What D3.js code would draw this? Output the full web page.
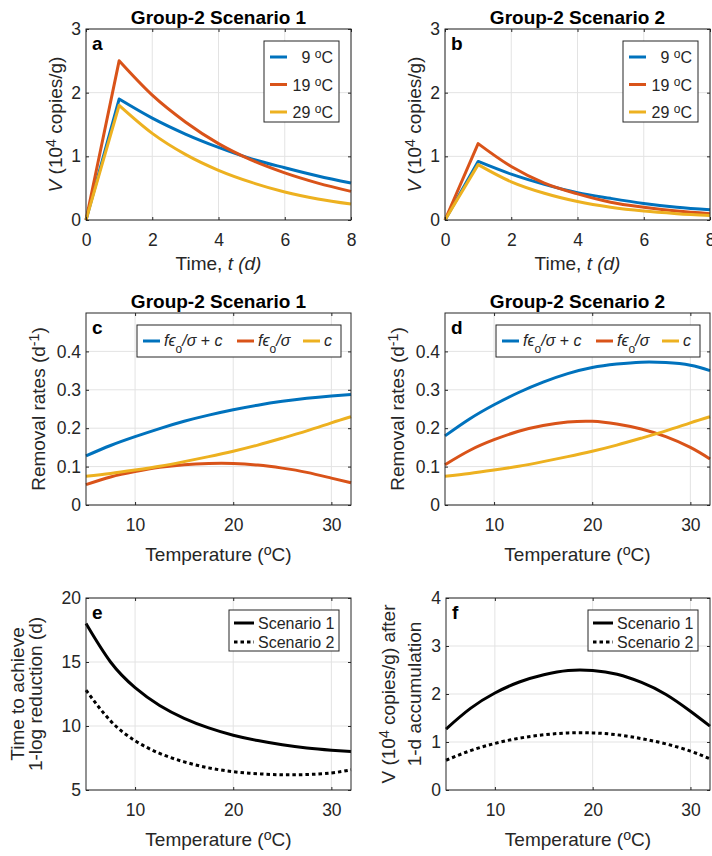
<!DOCTYPE html>
<html>
<head>
<meta charset="utf-8">
<script src="https://cdn.jsdelivr.net/npm/d3@7"></script>
<style>
  body { margin: 0; background: #fff; }
  svg { display: block; font-family: "Liberation Sans", Arial, Helvetica, sans-serif; }
</style>
</head>
<body>
<div id="chart"></div>
<script>
// ---- panels a / b : V over time (10^4 copies/g) ----
const timeDays = [0, 1, 2, 3, 4, 5, 6, 7, 8];
const tempNames = ["9", "19", "29"];
const s1At9  = [0, 1.90, 1.60, 1.35, 1.14, 0.96, 0.82, 0.69, 0.58];
const s1At19 = [0, 2.50, 1.96, 1.54, 1.20, 0.94, 0.74, 0.58, 0.45];
const s1At29 = [0, 1.80, 1.36, 1.03, 0.78, 0.59, 0.44, 0.33, 0.25];
const s2At9  = [0, 0.92, 0.72, 0.56, 0.43, 0.34, 0.26, 0.20, 0.16];
const s2At19 = [0, 1.20, 0.84, 0.58, 0.41, 0.28, 0.20, 0.14, 0.10];
const s2At29 = [0, 0.87, 0.60, 0.42, 0.29, 0.20, 0.14, 0.10, 0.07];

// ---- panels c..f : against temperature ----
const tempC     = [5, 7.5, 10, 12.5, 15, 17.5, 20, 22.5, 25, 27.5, 30, 32];
const s1Total   = [0.128, 0.155, 0.178, 0.199, 0.218, 0.234, 0.248, 0.260, 0.270, 0.278, 0.284, 0.288];
const s1Inact   = [0.053, 0.073, 0.087, 0.098, 0.105, 0.108, 0.108, 0.104, 0.096, 0.085, 0.070, 0.058];
const decayC    = [0.075, 0.082, 0.091, 0.101, 0.113, 0.126, 0.140, 0.156, 0.174, 0.193, 0.214, 0.230];
const s2Total   = [0.180, 0.224, 0.261, 0.293, 0.320, 0.342, 0.358, 0.367, 0.372, 0.371, 0.364, 0.350];
const s2Inact   = [0.105, 0.142, 0.170, 0.192, 0.207, 0.216, 0.218, 0.211, 0.198, 0.178, 0.150, 0.120];
const s1LogTime = [18.0, 15.0, 13.0, 11.6, 10.6, 9.85, 9.28, 8.86, 8.53, 8.28, 8.11, 8.0];
const s2LogTime = [12.8, 10.4, 8.85, 7.86, 7.20, 6.73, 6.43, 6.27, 6.19, 6.21, 6.33, 6.58];
const s1Peak    = [1.27, 1.70, 2.02, 2.25, 2.40, 2.49, 2.49, 2.41, 2.24, 1.99, 1.64, 1.33];
const s2Peak    = [0.62, 0.82, 0.97, 1.08, 1.15, 1.19, 1.19, 1.15, 1.07, 0.96, 0.81, 0.65];

// tick values
const timeTicks = [0, 2, 4, 6, 8];
const vTicks    = [0, 1, 2, 3];
const tempTicks = [10, 20, 30];
const rateTicks = [0, 0.1, 0.2, 0.3, 0.4];
const logTicks  = [5, 10, 15, 20];
const peakTicks = [0, 1, 2, 3, 4];

const ink = "#262626", gridInk = "#e3e3e3";
const blue = "#0072BD", orange = "#D95319", gold = "#EDB120";
const tickFont = 17.5, labelFont = 19, legendFont = 16;

var svg = d3.select("#chart").append("svg")
    .attr("width", 712)
    .attr("height", 856);

function rich(sel, parts) {
  parts.forEach(function(p) {
    var t = sel.append("tspan").text(p.t);
    if (p.i) t.attr("font-style", "italic");
    if (p.sup) t.attr("baseline-shift", "40%").attr("font-size", "75%");
    if (p.sub) t.attr("baseline-shift", "sub").attr("font-size", "75%");
  });
  return sel;
}

function makePanel(o) {
  var x = d3.scaleLinear().domain(o.xDomain).range([o.left, o.right]);
  var y = d3.scaleLinear().domain(o.yDomain).range([o.bottom, o.top]);
  var g = svg.append("g");

  g.append("g").selectAll("line").data(o.xTicks).join("line")
      .attr("x1", d => x(d)).attr("x2", d => x(d))
      .attr("y1", o.top).attr("y2", o.bottom)
      .attr("stroke", gridInk);
  g.append("g").selectAll("line").data(o.yTicks).join("line")
      .attr("y1", d => y(d)).attr("y2", d => y(d))
      .attr("x1", o.left).attr("x2", o.right)
      .attr("stroke", gridInk);

  return {g: g, x: x, y: y, o: o};
}

function finishPanel(p) {
  var o = p.o, g = p.g, fmt = d => String(d);

  g.append("rect")
      .attr("x", o.left).attr("y", o.top)
      .attr("width", o.right - o.left).attr("height", o.bottom - o.top)
      .attr("fill", "none").attr("stroke", ink).attr("stroke-width", 1);

  var axes = [
    [d3.axisBottom(p.x).tickValues(o.xTicks).tickFormat(fmt).tickPadding(14), "translate(0," + o.bottom + ")"],
    [d3.axisLeft(p.y).tickValues(o.yTicks).tickFormat(fmt).tickPadding(5), "translate(" + o.left + ",0)"],
    [d3.axisTop(p.x).tickValues(o.xTicks).tickFormat(""), "translate(0," + o.top + ")"],
    [d3.axisRight(p.y).tickValues(o.yTicks).tickFormat(""), "translate(" + o.right + ",0)"]
  ];
  axes.forEach(function(a) {
    var ax = g.append("g").attr("transform", a[1])
        .call(a[0].tickSizeInner(-3).tickSizeOuter(0));
    ax.select(".domain").remove();
    ax.attr("font-family", null).attr("font-size", tickFont);
    ax.selectAll("line").attr("stroke", ink);
    ax.selectAll("text").attr("fill", ink);
  });

  if (o.title) {
    g.append("text")
        .attr("x", (o.left + o.right) / 2).attr("y", o.top - 5)
        .attr("text-anchor", "middle")
        .attr("font-weight", "bold").attr("font-size", 19)
        .text(o.title);
  }
  g.append("text")
      .attr("x", o.left + 6).attr("y", o.top + 21)
      .attr("font-weight", "bold").attr("font-size", 19)
      .text(o.tag);

  rich(g.append("text")
      .attr("x", (o.left + o.right) / 2).attr("y", o.bottom + o.xLabelGap)
      .attr("text-anchor", "middle").attr("font-size", labelFont).attr("fill", ink),
      o.xLabel);

  o.yLabel.forEach(function(line) {
    rich(g.append("text")
        .attr("transform", "translate(" + (o.left - line.gap) + "," + ((o.top + o.bottom) / 2) + ") rotate(-90)")
        .attr("text-anchor", "middle").attr("font-size", labelFont).attr("fill", ink),
        line.parts);
  });
}

function timePath(p, vals) {
  var pts = timeDays.map((t, i) => [t, vals[i]]);
  var rise = d3.line().x(d => p.x(d[0])).y(d => p.y(d[1]))(pts.slice(0, 2));
  var fall = d3.line().x(d => p.x(d[0])).y(d => p.y(d[1]))
      .curve(d3.curveMonotoneX)(pts.slice(1));
  return rise + fall.replace(/^M/, "L");
}

function tempPath(p, vals) {
  return d3.line().x((d, i) => p.x(tempC[i])).y(d => p.y(d))
      .curve(d3.curveNatural)(vals);
}

function legendBox(g, x, y, w, h) {
  g.append("rect").attr("x", x).attr("y", y).attr("width", w).attr("height", h)
      .attr("fill", "#fff").attr("stroke", ink).attr("stroke-width", 1);
}

// ---------- time panels ----------
function timePanel(left, right, title, tag, series) {
  var p = makePanel({
    left: left, right: right, top: 29, bottom: 220,
    xDomain: [0, 8], yDomain: [0, 3], xTicks: timeTicks, yTicks: vTicks,
    title: title, tag: tag, xLabelGap: 50,
    xLabel: [{t: "Time, "}, {t: "t (d)", i: true}],
    yLabel: [{gap: 24.5, parts: [{t: "V", i: true}, {t: " (10"}, {t: "4", sup: true}, {t: " copies/g)"}]}]
  });
  var cols = [blue, orange, gold];
  series.forEach(function(vals, i) {
    p.g.append("path").attr("d", timePath(p, vals))
        .attr("fill", "none").attr("stroke", cols[i]).attr("stroke-width", 3)
        .attr("stroke-linejoin", "round");
  });
  finishPanel(p);
  var bx = right - 87, by = 29 + 12;
  legendBox(p.g, bx, by, 75, 81);
  tempNames.forEach(function(name, i) {
    var cy = by + 16 + i * 27.5;
    p.g.append("line").attr("x1", bx + 6).attr("x2", bx + 23).attr("y1", cy).attr("y2", cy)
        .attr("stroke", cols[i]).attr("stroke-width", 3);
    rich(p.g.append("text").attr("x", bx + 69).attr("y", cy + 6)
        .attr("text-anchor", "end").attr("font-size", legendFont).attr("fill", ink),
        [{t: name + " "}, {t: "o", sup: true}, {t: "C"}]);
  });
}
timePanel(86, 351, "Group-2 Scenario 1", "a", [s1At9, s1At19, s1At29]);
timePanel(445, 710, "Group-2 Scenario 2", "b", [s2At9, s2At19, s2At29]);

// ---------- removal-rate panels ----------
var tempXLabel = [{t: "Temperature ("}, {t: "o", sup: true}, {t: "C)"}];
function ratePanel(left, right, title, tag, total, inact) {
  var p = makePanel({
    left: left, right: right, top: 313, bottom: 505,
    xDomain: [5, 32], yDomain: [0, 0.5], xTicks: tempTicks, yTicks: rateTicks,
    title: title, tag: tag, xLabelGap: 56, xLabel: tempXLabel,
    yLabel: [{gap: 41, parts: [{t: "Removal rates (d"}, {t: "-1", sup: true}, {t: ")"}]}]
  });
  [[total, blue], [inact, orange], [decayC, gold]].forEach(function(s) {
    p.g.append("path").attr("d", tempPath(p, s[0]))
        .attr("fill", "none").attr("stroke", s[1]).attr("stroke-width", 3);
  });
  finishPanel(p);
  var bx = right - 214, by = 313 + 12, cy = by + 16;
  legendBox(p.g, bx, by, 204, 32);
  var fe = [{t: "f", i: true}, {t: "\u03F5", i: true}, {t: "o", sub: true}, {t: "/", i: true}, {t: "\u03C3", i: true}];
  var items = [
    [6, blue, fe.concat([{t: " + "}, {t: "c", i: true}])],
    [100, orange, fe],
    [166, gold, [{t: "c", i: true}]]
  ];
  items.forEach(function(it) {
    p.g.append("line").attr("x1", bx + it[0]).attr("x2", bx + it[0] + 17)
        .attr("y1", cy).attr("y2", cy)
        .attr("stroke", it[1]).attr("stroke-width", 3);
    rich(p.g.append("text").attr("x", bx + it[0] + 21).attr("y", cy + 5)
        .attr("font-size", legendFont).attr("fill", ink), it[2]);
  });
}
ratePanel(86, 351, "Group-2 Scenario 1", "c", s1Total, s1Inact);
ratePanel(445, 710, "Group-2 Scenario 2", "d", s2Total, s2Inact);

// ---------- scenario comparison panels ----------
function scenarioPanel(o, vals1, vals2) {
  o.top = 598; o.bottom = 790; o.xDomain = [5, 32]; o.xTicks = tempTicks;
  o.xLabelGap = 56; o.xLabel = tempXLabel;
  var p = makePanel(o);
  p.g.append("path").attr("d", tempPath(p, vals1))
      .attr("fill", "none").attr("stroke", "#000").attr("stroke-width", 3);
  p.g.append("path").attr("d", tempPath(p, vals2))
      .attr("fill", "none").attr("stroke", "#000").attr("stroke-width", 3)
      .attr("stroke-dasharray", "3.5,3");
  finishPanel(p);
  var bx = o.right - 122, by = o.top + 12;
  legendBox(p.g, bx, by, 110, 41);
  ["Scenario 1", "Scenario 2"].forEach(function(name, i) {
    var cy = by + 13 + i * 19;
    p.g.append("line").attr("x1", bx + 5).attr("x2", bx + 25).attr("y1", cy).attr("y2", cy)
        .attr("stroke", "#000").attr("stroke-width", 3)
        .attr("stroke-dasharray", i ? "3.5,3" : null);
    p.g.append("text").attr("x", bx + 29).attr("y", cy + 6)
        .attr("font-size", legendFont).attr("fill", ink).text(name);
  });
}
scenarioPanel({
  left: 86, right: 351, tag: "e", yDomain: [5, 20], yTicks: logTicks,
  yLabel: [{gap: 62, parts: [{t: "Time to achieve"}]},
           {gap: 44, parts: [{t: "1-log reduction (d)"}]}]
}, s1LogTime, s2LogTime);
scenarioPanel({
  left: 446, right: 710, tag: "f", yDomain: [0, 4], yTicks: peakTicks,
  yLabel: [{gap: 51, parts: [{t: "V (10"}, {t: "4", sup: true}, {t: " copies/g) after"}]},
           {gap: 25, parts: [{t: "1-d accumulation"}]}]
}, s1Peak, s2Peak);
</script>
</body>
</html>
